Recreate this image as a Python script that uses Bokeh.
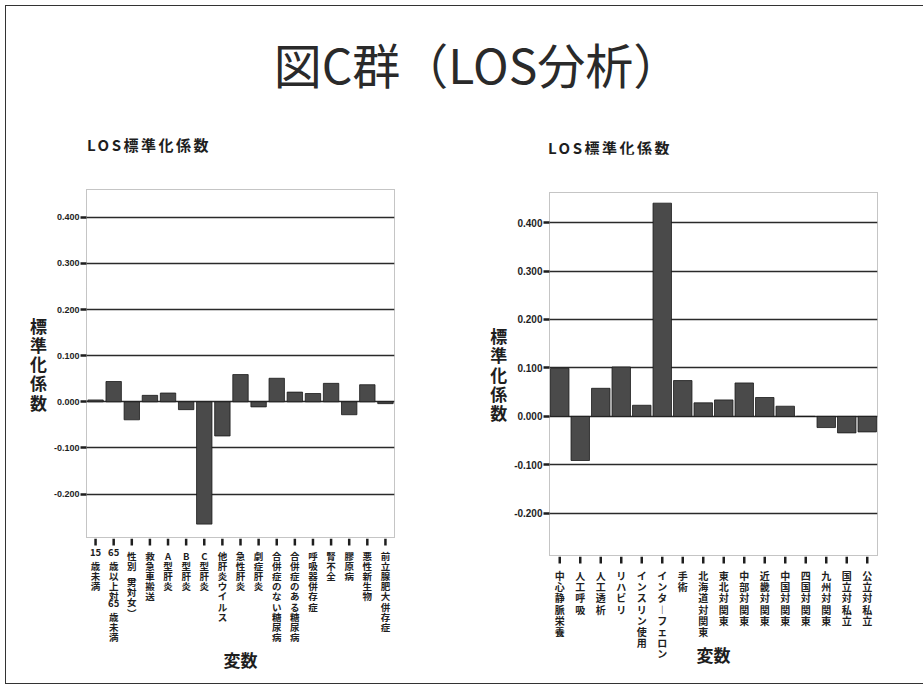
from bokeh.plotting import figure
from bokeh.models import FactorRange, FixedTicker, Div, Range1d, PrintfTickFormatter, ColumnDataSource
from bokeh.layouts import column, row
from bokeh.embed import file_html
from bokeh.resources import INLINE
from bokeh.core.properties import value

page_title = "図C群（LOS分析）"
chart_title = "LOS標準化係数"
y_axis_title = "標準化係数"
x_axis_title = "変数"

left_categories = ["15歳未満", "65歳以上対65歳未満", "性別（男対女）", "救急車搬送", "A型肝炎",
                   "B型肝炎", "C型肝炎", "他肝炎ウイルス", "急性肝炎", "劇症肝炎",
                   "合併症のない糖尿病", "合併症のある糖尿病", "呼吸器併存症", "腎不全",
                   "膠原病", "悪性新生物", "前立腺肥大併存症"]
left_values = [0.004, 0.044, -0.039, 0.014, 0.019, -0.017, -0.265, -0.074, 0.059, -0.011,
               0.051, 0.021, 0.018, 0.040, -0.028, 0.037, -0.004]

right_categories = ["中心静脈栄養", "人工呼吸", "人工透析", "リハビリ", "インスリン使用",
                    "インターフェロン", "手術", "北海道対関東", "東北対関東", "中部対関東",
                    "近畿対関東", "中国対関東", "四国対関東", "九州対関東", "国立対私立", "公立対私立"]
right_values = [0.099, -0.091, 0.058, 0.102, 0.023, 0.440, 0.074, 0.028, 0.034, 0.069,
                0.039, 0.021, 0.0, -0.023, -0.034, -0.032]

y_ticks = [-0.2, -0.1, 0.0, 0.1, 0.2, 0.3, 0.4]

VERT = {"（": "︵", "）": "︶", "ー": "︱"}
HALF = {"︵", "︶"}


def vertical_lines(s):
    lines = []
    buf = ""
    for ch in s:
        if ch.isdigit() and ch.isascii():
            buf += ch
            continue
        if buf:
            lines.append(buf)
            buf = ""
        lines.append(VERT.get(ch, ch))
    if buf:
        lines.append(buf)
    return lines


LATIN = "'Liberation Sans', 'Noto Sans CJK JP'"
CJK = "Noto Sans CJK JP"
INK = "#1e1e1e"


def make_chart(cats, vals, width, main_h, strip_h, y0, y1, mb, bar_w, tick_fs, cat_fs, pitch,
               lab_start, xlab_y):
    xr = FactorRange(factors=cats)
    p = figure(x_range=xr, y_range=Range1d(y0, y1), x_axis_location=None,
               width=width, height=main_h, output_backend="svg", toolbar_location=None,
               min_border_left=mb[0], min_border_right=mb[1], min_border_top=mb[2],
               min_border_bottom=1, background_fill_color="white",
               border_fill_color="white")
    src = ColumnDataSource(dict(x=cats, top=vals))
    p.vbar(x="x", top="top", bottom=0, width=bar_w, source=src,
           fill_color="#4a4a4a", line_color="#1a1a1a", line_width=0.8)

    p.outline_line_color = "#8a8a8a"
    p.outline_line_dash = "1 1"
    p.outline_line_width = 1

    p.xgrid.visible = False
    p.xgrid.grid_line_color = None
    p.ygrid.ticker = FixedTicker(ticks=y_ticks)
    p.ygrid.grid_line_color = "#2a2a2a"
    p.ygrid.grid_line_width = 1.3

    ya = p.yaxis[0]
    ya.ticker = FixedTicker(ticks=y_ticks)
    ya.formatter = PrintfTickFormatter(format="%.3f")
    ya.axis_line_color = None
    ya.major_tick_in = 0
    ya.major_tick_out = 6
    ya.major_tick_line_width = 2.5
    ya.major_tick_line_color = INK
    ya.minor_tick_line_color = None
    ya.major_label_text_font = LATIN
    ya.major_label_text_font_size = tick_fs
    ya.major_label_text_font_style = "bold"
    ya.major_label_text_color = INK
    ya.major_label_standoff = 1
    ya.axis_label = "\n".join(vertical_lines(y_axis_title))
    ya.axis_label_orientation = "horizontal"
    ya.axis_label_text_font = CJK
    ya.axis_label_text_font_size = "17px"
    ya.axis_label_text_font_style = "bold"
    ya.axis_label_text_color = INK
    ya.axis_label_text_line_height = 0.77
    ya.axis_label_standoff = 4

    # strip below the chart, sharing the categorical x range: ticks, vertical labels, x title
    s = figure(x_range=xr, y_range=Range1d(-strip_h, 0), width=width, height=strip_h,
               output_backend="svg", toolbar_location=None,
               x_axis_location=None, y_axis_location=None,
               min_border_left=mb[0], min_border_right=mb[1], min_border_top=0,
               min_border_bottom=0, outline_line_color=None,
               background_fill_color="white", border_fill_color="white")
    s.xgrid.visible = False
    s.ygrid.visible = False
    s.grid.grid_line_color = None
    s.segment(x0=cats, y0=[0] * len(cats), x1=cats, y1=[-7] * len(cats),
              line_color=INK, line_width=2.5)
    lx, ly, lt = [], [], []
    for c in cats:
        off = lab_start
        for ln in vertical_lines(c):
            lx.append(c)
            ly.append(-off)
            lt.append(ln)
            off += pitch * (0.6 if ln in HALF else 1.0)
    s.text(x="x", y="y", text="t", source=ColumnDataSource(dict(x=lx, y=ly, t=lt)),
           text_font=value(CJK), text_font_size=cat_fs, text_font_style="bold",
           text_color=INK, text_align="center", text_baseline="top")
    s.text(x=[len(cats) / 2], y=[-xlab_y], text=[x_axis_title],
           text_font=value(CJK), text_font_size="17px", text_font_style="bold",
           text_color=INK, text_align="center", text_baseline="middle")
    return column(p, s, spacing=0)


c1 = make_chart(left_categories, left_values, 453, 384, 145, -0.294, 0.46,
                (80, 65, 35), 0.85, "9px", "9.5px", 10.1, 10.5, 120.5)
c2 = make_chart(right_categories, right_values, 456, 402, 127, -0.287, 0.462,
                (90, 38, 38), 0.9, "10px", "10px", 11.2, 11.5, 97.5)

title_style = ("font-family:'Noto Sans CJK JP';font-weight:bold;font-size:15px;letter-spacing:2.5px;"
               "color:#1e1e1e;line-height:20px;position:absolute;white-space:nowrap;")
head = Div(text=(
    "<div style=\"position:relative;width:909px;height:136px;\">"
    "<div style=\"position:absolute;left:12px;top:28px;width:909px;text-align:center;"
    "font-family:'Noto Sans CJK JP';font-size:48px;color:#2a2a2a;line-height:48px;white-space:nowrap;\">"
    f"{page_title}</div>"
    f"<div style=\"{title_style}left:76px;top:124px;\">{chart_title}</div>"
    f"<div style=\"{title_style}left:537px;top:127px;\">{chart_title}</div>"
    "</div>"), width=909, height=138)

page = column(head, row(c1, c2, spacing=0), spacing=0,
              styles={"border": "1.5px solid #333", "margin": "5px 0 0 5px"})

open("out.html", "w").write(file_html(page, INLINE))
